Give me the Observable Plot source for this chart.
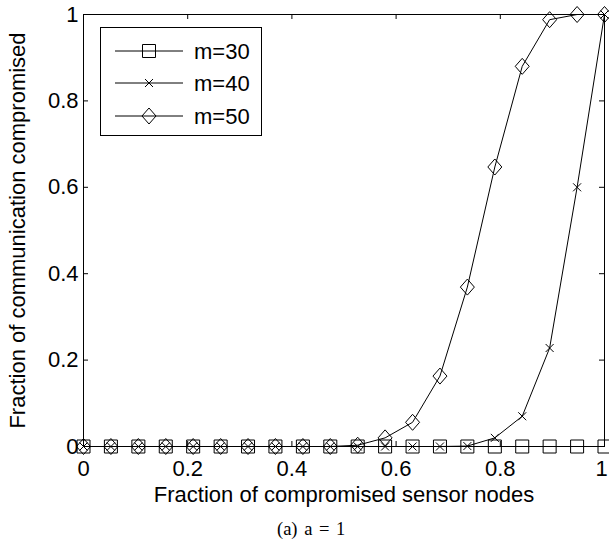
<!DOCTYPE html>
<html>
<head>
<meta charset="utf-8">
<script src="https://cdn.jsdelivr.net/npm/d3@7"></script>
<script src="https://cdn.jsdelivr.net/npm/@observablehq/plot@0.6"></script>
<style>
  body { margin: 0; background: #fff; }
  #wrap { position: relative; width: 609px; height: 546px; background: #fff; font-family: "Liberation Sans", Arial, sans-serif; }
  #legend { position: absolute; left: 100px; top: 27px; }
  #caption { position: absolute; left: 277px; top: 520px; font-family: "Liberation Serif", "Times New Roman", serif; font-size: 18.5px; line-height: 18.5px; word-spacing: 2px; color: #000; white-space: nowrap; }
</style>
</head>
<body>
<div id="wrap"></div>
<script>
// ---- data ----
const xValues = [0, 0.0526, 0.1053, 0.1579, 0.2105, 0.2632, 0.3158, 0.3684, 0.4211, 0.4737,
                 0.5263, 0.5789, 0.6316, 0.6842, 0.7368, 0.7895, 0.8421, 0.8947, 0.9474, 1];
const m30 = [0, 0, 0, 0, 0, 0, 0, 0, 0, 0, 0, 0, 0, 0, 0, 0, 0, 0, 0, 0];
const m40 = [0, 0, 0, 0, 0, 0, 0, 0, 0, 0, 0, 0, 0, 0, 0.001, 0.02, 0.07, 0.228, 0.6, 1.0];
const m50 = [0, 0, 0, 0, 0, 0, 0, 0, 0, 0, 0.003, 0.02, 0.056, 0.163, 0.369, 0.647, 0.88, 0.988, 1.0, 1.0];
const seriesNames = ["m=30", "m=40", "m=50"];
const xTicks = [0, 0.2, 0.4, 0.6, 0.8, 1];
const xTickLabels = ["0", "0.2", "0.4", "0.6", "0.8", "1"];
const yTicks = [0, 0.2, 0.4, 0.6, 0.8, 1];
const yTickLabels = ["0", "0.2", "0.4", "0.6", "0.8", "1"];
const xLabel = "Fraction of compromised sensor nodes";
const yLabel = "Fraction of communication compromised";
const captionText = "(a) a = 1";

// ---- marker shapes (hollow, MATLAB-like) ----
const squareSym = { draw(ctx) { const s = 6.5; ctx.moveTo(-s, -s); ctx.lineTo(s, -s); ctx.lineTo(s, s); ctx.lineTo(-s, s); ctx.closePath(); } };
const timesSym = { draw(ctx) { const s = 4; ctx.moveTo(-s, -s); ctx.lineTo(s, s); ctx.moveTo(s, -s); ctx.lineTo(-s, s); } };
const diamondSym = { draw(ctx) { const w = 7, h = 8; ctx.moveTo(0, -h); ctx.lineTo(w, 0); ctx.lineTo(0, h); ctx.lineTo(-w, 0); ctx.closePath(); } };
const symbols = [squareSym, timesSym, diamondSym];
const seriesValues = [m30, m40, m50];

const series = seriesValues.map((vals, k) => xValues.map((x, i) => ({ x, y: vals[i], s: seriesNames[k] })));

const W = 609, H = 510;
const mL = 83, mR = 5, mT = 14, mB = 64;
const fw = W - mL - mR, fh = H - mT - mB;
const tick = 5;

const xTicksInner = xTicks.slice(0, -1);
const xTickLast = xTicks.slice(-1);
const xFmt = d => xTickLabels[xTicks.indexOf(d)];

const marks = [];
series.forEach((data, k) => {
  marks.push(Plot.line(data, { x: "x", y: "y", stroke: "black", strokeWidth: 1 }));
  marks.push(Plot.dot(data, { x: "x", y: "y", symbol: symbols[k], r: 5, fill: "none", stroke: "black", strokeWidth: 1 }));
});
marks.push(
  Plot.frame({ stroke: "black", strokeWidth: 1 }),
  // inward ticks on all four sides
  Plot.tickX(xTicks, { x: d => d, stroke: "black", insetTop: fh - tick }),
  Plot.tickX(xTicks, { x: d => d, stroke: "black", insetBottom: fh - tick }),
  Plot.tickY(yTicks, { y: d => d, stroke: "black", insetRight: fw - tick }),
  Plot.tickY(yTicks, { y: d => d, stroke: "black", insetLeft: fw - tick }),
  Plot.axisX(xTicksInner, { tickSize: 0, tickPadding: 14, tickFormat: xFmt,
    label: xLabel, labelAnchor: "center", labelOffset: 55, labelArrow: "none" }),
  Plot.axisX(xTickLast, { tickSize: 0, tickPadding: 14, tickFormat: xFmt, dx: -3, label: null }),
  Plot.axisY(yTicks, { tickSize: 0, tickPadding: 5, tickFormat: (d) => yTickLabels[yTicks.indexOf(d)],
    label: yLabel, labelAnchor: "center", labelOffset: 74, labelArrow: "none" })
);

const chart = Plot.plot({
  width: W, height: H,
  marginLeft: mL, marginRight: mR, marginTop: mT, marginBottom: mB,
  x: { domain: [0, 1] },
  y: { domain: [0, 1] },
  style: { fontSize: "22px", fontFamily: "'Liberation Sans', Arial, sans-serif", color: "black", background: "white", overflow: "visible" },
  marks
});

const wrap = document.getElementById("wrap");
wrap.appendChild(chart);

// ---- legend ----
const leg = d3.select(wrap).append("svg").attr("id", "legend").attr("width", 163).attr("height", 110);
leg.append("rect").attr("x", 0.5).attr("y", 0.5).attr("width", 161).attr("height", 108)
  .attr("fill", "white").attr("stroke", "black").attr("stroke-width", 1);
const rowY = [24, 56, 89];
seriesNames.forEach((name, k) => {
  const g = leg.append("g").attr("transform", `translate(0,${rowY[k]})`);
  g.append("line").attr("x1", 15).attr("x2", 83).attr("y1", 0).attr("y2", 0).attr("stroke", "black").attr("stroke-width", 1);
  const p = d3.path(); symbols[k].draw(p);
  g.append("path").attr("d", p.toString()).attr("transform", "translate(49,0)").attr("fill", "none").attr("stroke", "black");
  g.append("text").attr("x", 94).attr("y", 0).attr("dy", "0.35em").attr("font-size", 22)
    .attr("font-family", "'Liberation Sans', Arial, sans-serif").text(name);
});

// ---- caption ----
d3.select(wrap).append("div").attr("id", "caption").text(captionText);
</script>
</body>
</html>
